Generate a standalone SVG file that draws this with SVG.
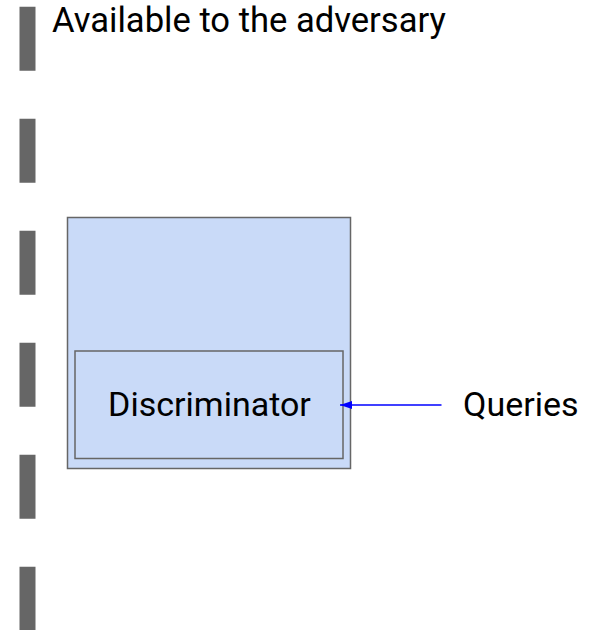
<svg xmlns="http://www.w3.org/2000/svg" width="598" height="630" viewBox="0 0 598 630">
  <style>
    .label { font-family: Roboto, "Liberation Sans", sans-serif; fill: #000000; }
    .box { fill: #c9daf8; stroke: #666666; stroke-width: 1.5; }
    .divider { stroke: #666666; stroke-width: 16; stroke-dasharray: 64 48; fill: none; }
    .query { stroke: #0000ff; stroke-width: 1.5; fill: none; }
  </style>
  <defs>
    <marker id="arrowhead" viewBox="0 0 12 8" refX="12" refY="4" markerWidth="12" markerHeight="8" markerUnits="userSpaceOnUse" orient="auto">
      <path d="M0,0 L12,4 L0,8 Z" fill="#0000ff"/>
    </marker>
  </defs>

  <rect width="598" height="630" fill="#ffffff"/>

  <!-- dashed boundary on the left -->
  <g id="boundary">
    <line class="divider" x1="27.5" y1="6.7" x2="27.5" y2="630"/>
  </g>

  <g id="title">
    <text class="label" x="52" y="31.7" font-size="34.6">Available to the adversary</text>
  </g>

  <g id="outer-box">
    <rect class="box" x="67.5" y="217.5" width="283" height="251"/>
  </g>

  <g id="discriminator">
    <rect class="box" x="75" y="351" width="268" height="107.5"/>
    <text class="label" x="209.5" y="415.5" font-size="34" text-anchor="middle">Discriminator</text>
  </g>

  <g id="queries">
    <text class="label" x="463" y="415.5" font-size="34">Queries</text>
  </g>

  <g id="connectors">
    <line class="query" x1="441.5" y1="405" x2="340" y2="405" marker-end="url(#arrowhead)"/>
  </g>
</svg>
